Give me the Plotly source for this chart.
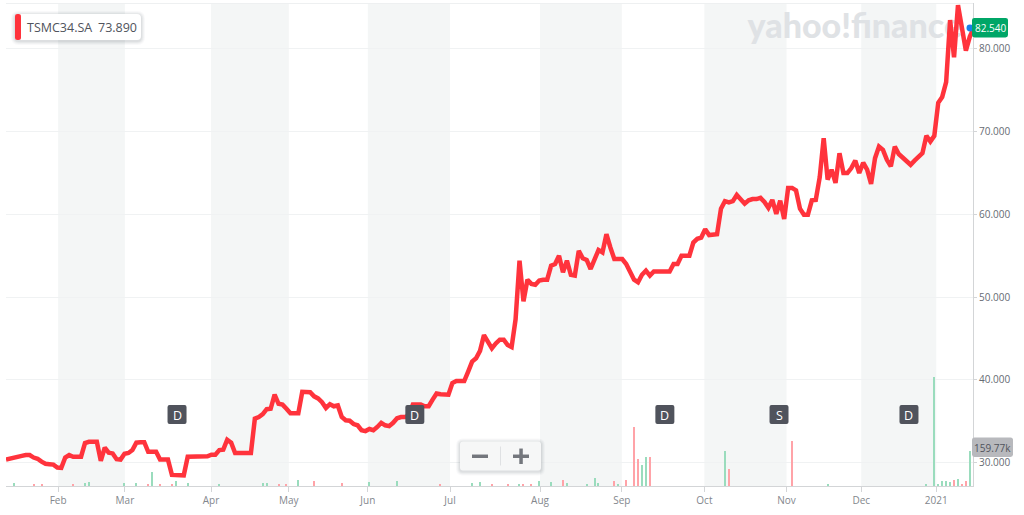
import plotly.graph_objects as go

# ---------- data ----------
close = [
    30.36,30.5,30.55,30.7,30.8,30.9,30.9,30.6,30.45,30.1,
    29.85,29.8,29.75,29.4,29.35,30.6,30.9,30.7,30.7,30.7,
    32.35,32.5,32.5,32.5,30.2,31.8,31.2,31.1,30.4,30.35,
    31.05,31.15,31.5,32.4,32.45,32.45,31.3,31.25,31.3,30.35,
    30.35,30.35,28.5,28.45,28.45,28.45,30.7,30.7,30.7,30.7,
    30.7,30.75,30.95,30.95,31.5,31.55,32.75,32.4,31.15,31.15,
    31.15,31.15,31.15,35.3,35.5,35.85,36.45,36.5,38.2,37.1,
    37.0,36.5,35.95,35.95,35.95,38.55,38.55,38.5,38.0,37.75,
    37.3,36.6,37.05,36.8,36.9,35.5,35.1,35.05,34.65,34.5,
    33.9,33.8,34.05,33.9,34.3,34.8,34.5,34.4,34.8,35.35,
    35.5,35.5,35.7,37,37,37,36.8,36.8,37.6,38.35,
    38.25,38.2,38.2,39.6,39.85,39.85,39.85,41,42.2,42.6,
    43.5,45.4,44.6,43.8,44.4,44.85,44.85,44.2,43.95,47.3,
    54.4,49.5,52.1,51.6,51.5,52,52.1,52.1,53.8,54,
    55,53,54.4,52.7,52.6,55.6,54.7,54.5,53.4,54.5,
    55.7,55.4,57.6,56,54.6,54.6,54.6,54,53,52.1,
    51.8,52.7,53.2,52.6,53.1,53.1,53.1,53.1,53.1,54,
    54,55,55,55,56.6,57.05,57.2,58.2,57.5,57.5,
    57.6,60.7,61.6,61.45,61.6,62.35,61.9,61.3,61.7,61.85,
    61.85,62,61.5,60.8,61.75,60.05,61.65,59.45,63.2,63.2,
    62.9,60.7,59.95,59.95,61.7,61.75,64.5,69.2,64.2,65.4,
    63.8,67.4,65,65,65.6,66.5,65,66.25,65.4,63.7,
    66.8,68.2,67.8,66.6,65.8,68.2,67.3,66.9,66.4,66,
    66.5,66.9,67.4,69.5,68.8,69.5,73.5,74.2,76,83.5,
    79,85.3,82.8,79.8,81.5,82.54,
]
sessions = list(range(len(close)))

vol_up_sessions = [2,20,21,30,33,37,43,46,54,65,66,74,92,99,118,120,130,135,138,142,147,149,150,155,161,162,182,208,233,235,236,237,238,239,241,244]
vol_up_k =        [12,12,17,12,12,64,24,12,6,15,12,26,17,23,12,17,6,21,17,12,6,36,12,6,96,132,160,6,6,497,6,21,21,17,31,160]
vol_down_sessions = [7,9,17,36,39,42,69,71,78,85,110,123,127,131,133,141,154,157,159,160,163,183,199,240,242,243]
vol_down_k =        [6,6,6,6,6,6,6,6,21,12,6,6,6,6,6,26,21,26,269,123,132,78,204,26,6,21]

month_ticks = [13.2,30.1,51.9,71.6,91.6,112.4,135.2,155.9,176.8,197.6,216.5,235.5]
month_labels = ["Feb","Mar","Apr","May","Jun","Jul","Aug","Sep","Oct","Nov","Dec","2021"]
shaded_months = [(0,1),(2,3),(4,5),(6,7),(8,9),(10,11)]
price_ticks = [30,40,50,60,70,80]
event_sessions = [43.3,103.5,166.8,195.7,228.6]
event_labels = ["D","D","D","S","D"]

W, H = 1024, 515
L, R, T, B = 6, 973, 3, 486.5
RED = "#ff333c"
INK = "#50535c"

def fx(p): return (p - L) / (R - L)
def fy(p): return (B - p) / (B - T)

def rrect(x0, y0, x1, y1, r):
    a, b, c, d = fx(x0), fy(y0), fx(x1), fy(y1)
    rx, ry = r / (R - L), r / (B - T)
    return (f"M{a+rx},{b} L{c-rx},{b} Q{c},{b} {c},{b-ry} L{c},{d+ry} Q{c},{d} {c-rx},{d} "
            f"L{a+rx},{d} Q{a},{d} {a},{d+ry} L{a},{b-ry} Q{a},{b} {a+rx},{b} Z")

def paper_path(path, fill):
    return dict(type="path", xref="paper", yref="paper", path=path, fillcolor=fill,
                line=dict(width=0), layer="above")

def paper_rect(x0, y0, x1, y1, fill):
    return dict(type="rect", xref="paper", yref="paper", x0=fx(x0), x1=fx(x1), y0=fy(y1), y1=fy(y0),
                fillcolor=fill, line=dict(width=0), layer="above")

def soft_box(x0, y0, x1, y1, r, fill):
    out = []
    for g, alpha in ((4, .03), (3, .04), (2, .05), (1, .06)):
        out.append(paper_path(rrect(x0-g, y0-g+1, x1+g, y1+g+1, r+g), f"rgba(60,70,80,{alpha})"))
    out.append(paper_path(rrect(x0, y0, x1, y1, r), fill))
    return out

fig = go.Figure()

# watermark sits under the price line
fig.add_trace(go.Scatter(x=[214.9], y=[82.35], mode="text", text=["yahoo!finance"],
                         textfont=dict(family="Lato", size=34, color="#dfe2e5", weight=900),
                         textposition="middle center", hoverinfo="skip", showlegend=False, cliponaxis=False))
fig.add_trace(go.Bar(x=vol_up_sessions, y=vol_up_k, yaxis="y2", width=0.28,
                     marker=dict(color="#9adcbd", line=dict(width=0)), showlegend=False))
fig.add_trace(go.Bar(x=vol_down_sessions, y=vol_down_k, yaxis="y2", width=0.28,
                     marker=dict(color="#ffa3a8", line=dict(width=0)), showlegend=False))
fig.add_trace(go.Scatter(x=sessions, y=close, mode="lines",
                         line=dict(color=RED, width=4.5), showlegend=False))

shapes = []
for a, b in shaded_months:
    shapes.append(dict(type="rect", xref="x", yref="paper", x0=month_ticks[a], x1=month_ticks[b],
                       y0=0, y1=1, fillcolor="#f4f6f6", line=dict(width=0), layer="below"))
# top rule of the plot
shapes.append(paper_rect(L, 3, R, 4, "#eef0f1"))

annotations = []

def text(x, y, s, size, color, family="Open Sans", anchor="center"):
    annotations.append(dict(xref="paper", yref="paper", x=fx(x), y=fy(y), text=s, showarrow=False,
                            xanchor=anchor, yanchor="middle", font=dict(family=family, size=size, color=color),
                            xshift=0, borderpad=0))

# legend chip
shapes += soft_box(15, 14, 141, 40, 4, "#ffffff")
shapes.append(paper_path(rrect(15, 14, 21, 40, 2.5), RED))
text(26, 27.5, "TSMC34.SA", 12.5, INK, anchor="left")
text(97, 27.5, "73.890", 12.5, INK, anchor="left")

# event badges
for s, lab in zip(event_sessions, event_labels):
    cx = 6 + 3.95 * s
    shapes.append(paper_path(rrect(cx-9.5, 405.5, cx+9.5, 424.5, 2), INK))
    text(cx, 415.5, lab, 12.5, "#ffffff")

# zoom control
shapes += soft_box(460, 442, 541, 471, 3, "#f6f7f7")
shapes.append(paper_rect(500, 447, 501, 466, "#dfe1e3"))
shapes.append(paper_rect(472, 455, 488, 458.5, "#74777d"))
shapes.append(paper_rect(513, 455, 529, 458.5, "#74777d"))
shapes.append(paper_rect(519.3, 449, 522.8, 464.5, "#74777d"))

# last-price markers
shapes.append(dict(type="circle", xref="paper", yref="paper", x0=fx(966.5), x1=fx(973.5), y0=fy(31.5), y1=fy(24.5),
                   fillcolor="#1a7fe8", line=dict(width=0), layer="above"))
shapes.append(paper_path(rrect(972, 18, 1008, 37.5, 2.5), "#00a667"))
text(990, 28, "82.540", 10, "#ffffff")
shapes.append(paper_path(rrect(972, 438, 1013, 457.5, 2.5), "#b8b9bd"))
text(992.5, 448, "159.77k", 10, INK)

fig.update_layout(
    width=W, height=H, autosize=False,
    margin=dict(l=L, r=W-R, t=T, b=H-B),
    paper_bgcolor="#ffffff", plot_bgcolor="#ffffff",
    barmode="overlay", bargap=0, dragmode=False, hovermode=False,
    font=dict(family="Open Sans", color="#6a6f77", size=10),
    shapes=shapes, annotations=annotations,
    xaxis=dict(range=[0, 244.8], tickmode="array", tickvals=month_ticks, ticktext=month_labels,
               showgrid=False, zeroline=False, showline=True, linecolor="#d3d5d7", linewidth=1,
               ticks="outside", ticklen=5, tickcolor="#d3d5d7", tickfont=dict(size=10, color="#83878d")),
    yaxis=dict(range=[27.16, 85.56], side="right", tickmode="array", tickvals=price_ticks,
               tickformat=".3f", showgrid=True, gridcolor="#f0f2f3", gridwidth=1, zeroline=False,
               showline=True, linecolor="#d3d5d7", linewidth=1, mirror=False,
               ticks="outside", ticklen=3, tickcolor="#d3d5d7", tickfont=dict(size=10, color="#666b73")),
    yaxis2=dict(range=[0, 2205], overlaying="y", side="right", visible=False),
)

fig.write_html("out.html", config=dict(displayModeBar=False),
               post_script="document.body.style.margin='0';")
